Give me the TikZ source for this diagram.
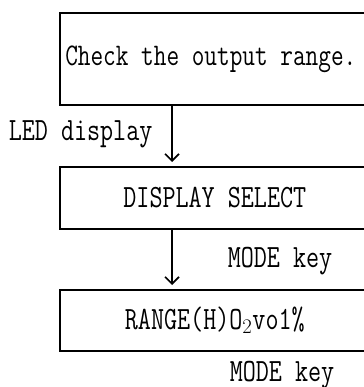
\documentclass[tikz,border=0pt]{standalone}
\usepackage{fontspec}
\setmainfont{Latin Modern Mono}[FakeStretch=0.78]
\usetikzlibrary{arrows.meta}
\tikzstyle{box}=[draw,line width=1.6pt,minimum width=310pt,anchor=north west,inner sep=0pt]
\tikzstyle{lbl}=[anchor=base west,inner sep=0pt]

\begin{document}
\begin{tikzpicture}[x=1pt,y=1pt,line width=1.6pt,font=\fontsize{32.5}{38}\selectfont,
	>={Straight Barb[length=7pt,width=14pt]}]
	\useasboundingbox (0,0) rectangle (363,-387);
	\coordinate (ax) at (172,0);
	% boxes
	\node[box,minimum height=92pt,font=\fontsize{31.5}{38}\selectfont] (chk) at (59,-12) {Check the output range.\hspace*{8pt}};
	\node[box,minimum height=62pt] (sel) at (59,-166) {DISPLAY SELECT};
	\node[box,minimum height=61pt] (rng) at (59,-289) {RANGE(H)O$_2$vo1\%};
	% labels
	\node[lbl] (led) at (8,-141) {LED display};
	\node[lbl] (mk1) at (227,-267) {MODE key};
	\node[lbl] (mk2) at (229,-381) {MODE key};
	% arrows
	\draw[->,shorten >=4pt] (chk.south -| ax) -- (sel.north -| ax);
	\draw[->,shorten >=4pt] (sel.south -| ax) -- (rng.north -| ax);
\end{tikzpicture}
\end{document}
